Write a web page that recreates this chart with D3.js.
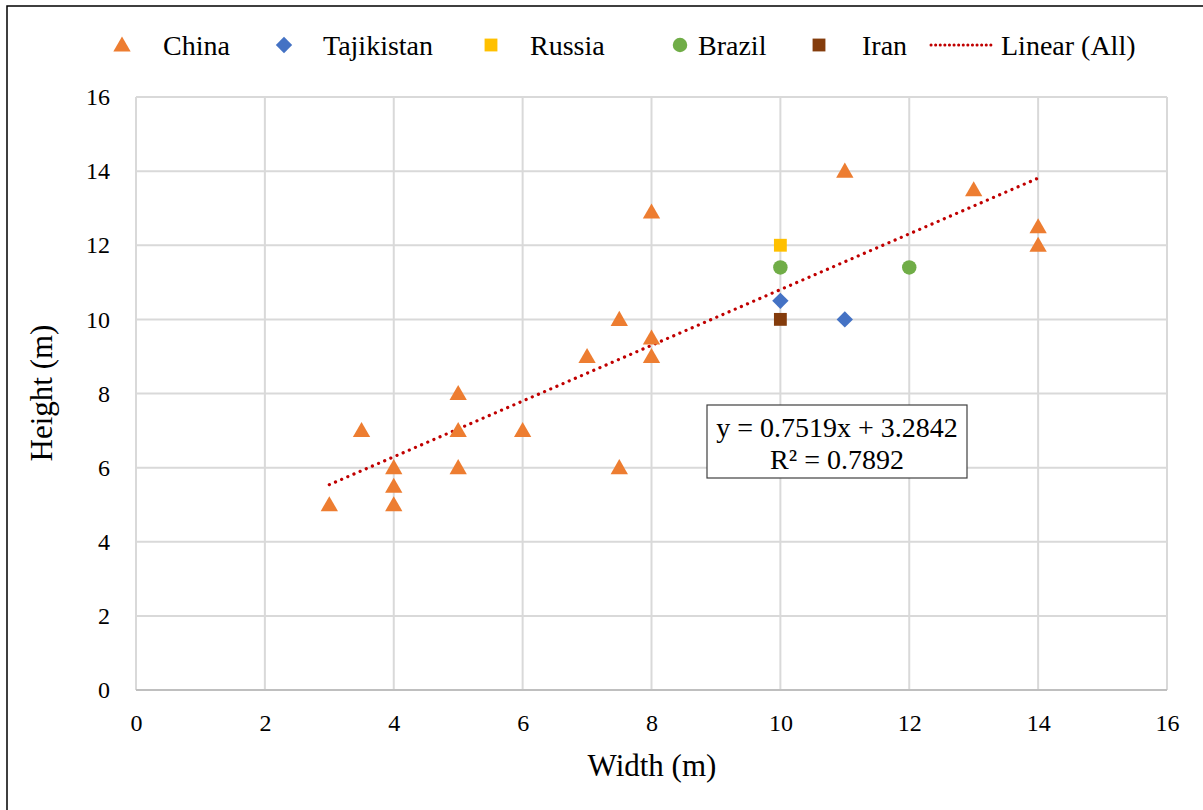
<!DOCTYPE html>
<html>
<head>
<meta charset="utf-8">
<script src="https://cdn.jsdelivr.net/npm/d3@7"></script>
<style>
  body { margin: 0; background: #fff; }
  svg text { font-family: "Liberation Serif", "Times New Roman", serif; fill: #000; }
</style>
</head>
<body>
<svg id="chart" width="1203" height="810"></svg>
<script>
// data
const chinaX = [3, 3.5, 4, 4, 4, 5, 5, 5, 6, 7, 7.5, 7.5, 8, 8, 8, 11, 13, 14, 14]
const chinaY = [5, 7, 6, 5.5, 5, 8, 7, 6, 7, 9, 10, 6, 12.9, 9.5, 9, 14, 13.5, 12.5, 12]
const tajikX = [10, 11]
const tajikY = [10.5, 10]
const russiaX = [10]
const russiaY = [12]
const brazilX = [10, 12]
const brazilY = [11.4, 11.4]
const iranX = [10]
const iranY = [10]
const trendSlope = 0.7519
const trendIntercept = 3.2842
const trendRange = [3, 14]
const ticks = [0, 2, 4, 6, 8, 10, 12, 14, 16]

const series = [
    { name: "China", xs: chinaX, ys: chinaY, shape: d3.symbolTriangle, size: 130, color: "#ed7d31", dy: 1.5 },
    { name: "Tajikistan", xs: tajikX, ys: tajikY, shape: d3.symbolDiamond2, size: 170, color: "#4472c4", dy: 0 },
    { name: "Russia", xs: russiaX, ys: russiaY, shape: d3.symbolSquare, size: 165, color: "#ffc000", dy: 0 },
    { name: "Brazil", xs: brazilX, ys: brazilY, shape: d3.symbolCircle, size: 165, color: "#70ad47", dy: 0 },
    { name: "Iran", xs: iranX, ys: iranY, shape: d3.symbolSquare, size: 165, color: "#843c0c", dy: 0 }
]

const svg = d3.select("#chart")

// outer frame
svg.append("rect").attr("x", 7).attr("y", 6).attr("width", 1210).attr("height", 820)
    .attr("fill", "none").attr("stroke", "#000").attr("stroke-width", 1.5)

const x = d3.scaleLinear().domain([0, 16]).range([136, 1167])
const y = d3.scaleLinear().domain([0, 16]).range([690, 97])

// grid
const grid = svg.append("g")
grid.selectAll(".gx").data(ticks).join("line")
    .attr("x1", d => x(d)).attr("x2", d => x(d))
    .attr("y1", y(0)).attr("y2", y(16))
    .attr("stroke", "#d9d9d9").attr("stroke-width", 2)
grid.selectAll(".gy").data(ticks).join("line")
    .attr("x1", x(0)).attr("x2", x(16))
    .attr("y1", d => y(d)).attr("y2", d => y(d))
    .attr("stroke", "#d9d9d9").attr("stroke-width", 2)

// x axis line
svg.append("line").attr("x1", x(0)).attr("x2", x(16)).attr("y1", y(0)).attr("y2", y(0))
    .attr("stroke", "#bfbfbf").attr("stroke-width", 2)

// tick labels via d3 axes, no ticks/domain
const xAxis = svg.append("g").attr("transform", `translate(0,${y(0)})`)
    .call(d3.axisBottom(x).tickValues(ticks).tickSize(0).tickPadding(24))
    .attr("font-family", null).attr("font-size", 24)
xAxis.select(".domain").remove()

const yAxis = svg.append("g").attr("transform", `translate(${x(0)},0)`)
    .call(d3.axisLeft(y).tickValues(ticks).tickSize(0).tickPadding(26))
    .attr("font-family", null).attr("font-size", 24)
yAxis.select(".domain").remove()

// titles
svg.append("text").attr("x", 652).attr("y", 776).attr("text-anchor", "middle")
    .attr("font-size", 31).text("Width (m)")
svg.append("text").attr("transform", "translate(52,393) rotate(-90)").attr("text-anchor", "middle")
    .attr("font-size", 31).text("Height (m)")

// trendline
svg.append("line")
    .attr("x1", x(trendRange[0])).attr("y1", y(trendSlope * trendRange[0] + trendIntercept))
    .attr("x2", x(trendRange[1])).attr("y2", y(trendSlope * trendRange[1] + trendIntercept))
    .attr("stroke", "#c00000").attr("stroke-width", 3.2)
    .attr("stroke-linecap", "round").attr("stroke-dasharray", "0.1,6.6")

// points
for (const s of series) {
    svg.append("g").selectAll("path").data(s.xs.map((v, i) => [v, s.ys[i]])).join("path")
        .attr("d", d3.symbol().type(s.shape).size(s.size))
        .attr("transform", d => `translate(${x(d[0])},${y(d[1]) + s.dy})`)
        .attr("fill", s.color)
}

// equation label
const eq = svg.append("g")
eq.append("rect").attr("x", 707).attr("y", 405).attr("width", 260).attr("height", 73)
    .attr("fill", "#fff").attr("stroke", "#404040").attr("stroke-width", 1.2)
eq.append("text").attr("x", 837).attr("y", 437).attr("text-anchor", "middle")
    .attr("font-size", 28).text("y = 0.7519x + 3.2842")
eq.append("text").attr("x", 837).attr("y", 469).attr("text-anchor", "middle")
    .attr("font-size", 28).text("R² = 0.7892")

// legend
const legendPos = [[122, 163], [284, 323], [491, 530], [680, 698], [819, 862]]
const legend = svg.append("g")
series.forEach((s, i) => {
    legend.append("path").attr("d", d3.symbol().type(s.shape).size(s.size))
        .attr("transform", `translate(${legendPos[i][0]},${45 + s.dy})`).attr("fill", s.color)
    legend.append("text").attr("x", legendPos[i][1]).attr("y", 55)
        .attr("font-size", 28).text(s.name)
})
legend.append("line").attr("x1", 931).attr("x2", 993).attr("y1", 45).attr("y2", 45)
    .attr("stroke", "#c00000").attr("stroke-width", 3).attr("stroke-linecap", "round")
    .attr("stroke-dasharray", "0.1,4.5")
legend.append("text").attr("x", 1001).attr("y", 55).attr("font-size", 28).text("Linear (All)")
</script>
</body>
</html>
